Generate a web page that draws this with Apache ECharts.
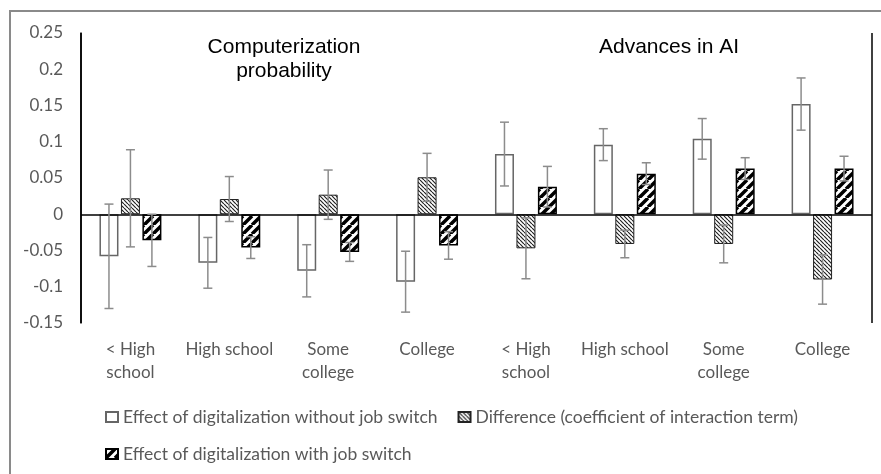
<!DOCTYPE html>
<html><head><meta charset="utf-8">
<script src="https://cdn.jsdelivr.net/npm/echarts/dist/echarts.min.js"></script>
<style>html,body{margin:0;padding:0;background:#fff}#c{width:881px;height:474px}</style>
</head><body><div id="c"></div>
<script>
// ---- data ----
const categories = ['< High\nschool', 'High school', 'Some\ncollege', 'College',
                    '< High\nschool', 'High school', 'Some\ncollege', 'College'];
const panelTitles = ['Computerization\nprobability', 'Advances in AI'];
const seriesNames = ['Effect of digitalization without job switch',
                     'Difference (coefficient of interaction term)',
                     'Effect of digitalization with job switch'];
const noSwitch      = [-0.058, -0.067, -0.078, -0.093, 0.083, 0.096, 0.104, 0.152];
const noSwitchErr   = [ 0.072,  0.035,  0.036,  0.042, 0.044, 0.022, 0.028, 0.036];
const diff          = [ 0.022,  0.021,  0.027,  0.051, -0.047, -0.041, -0.041, -0.090];
const diffErr       = [ 0.067,  0.031,  0.034,  0.033, 0.042, 0.019, 0.026, 0.034];
const withSwitch    = [-0.036, -0.046, -0.052, -0.043, 0.038, 0.056, 0.063, 0.063];
const withSwitchErr = [ 0.036,  0.015,  0.013,  0.019, 0.028, 0.015, 0.015, 0.017];

// ---- styling ----
const BAR_W = 19, BAR_GAP = 0.13;
const TXT = '#595959', FONT = 'Lato, "Open Sans", sans-serif';

function hatch(period, lw, dir, color) {
  const c = document.createElement('canvas');
  c.width = period; c.height = period;
  const ctx = c.getContext('2d');
  ctx.fillStyle = '#fff'; ctx.fillRect(0, 0, period, period);
  ctx.strokeStyle = color; ctx.lineWidth = lw;
  ctx.beginPath();
  for (let k = -1; k <= 1; k++) {
    if (dir === '/') { ctx.moveTo(k * period, period); ctx.lineTo(k * period + period, 0); }
    else { ctx.moveTo(k * period, 0); ctx.lineTo(k * period + period, period); }
  }
  ctx.stroke();
  return c;
}
const diffPattern = { image: hatch(4, 1.2, '\\', '#222'), repeat: 'repeat' };
const blackPattern = { image: hatch(9, 3.5, '/', '#000'), repeat: 'repeat' };

const values = [noSwitch, diff, withSwitch];
const errs = [noSwitchErr, diffErr, withSwitchErr];
const errData = [];
values.forEach((arr, s) => arr.forEach((v, i) => errData.push([i, v, s, errs[s][i]])));

const legendText = { fontFamily: FONT, fontSize: 17.5, color: TXT };
const chart = echarts.init(document.getElementById('c'), null, { renderer: 'canvas' });
chart.setOption({
  animation: false,
  backgroundColor: '#fff',
  grid: { left: 81, right: 9, top: 33, bottom: 151 },
  legend: [
    { data: [seriesNames[0], seriesNames[1]], left: 100, top: 403, itemGap: 20,
      itemWidth: 12, itemHeight: 10, icon: 'rect', textStyle: legendText },
    { data: [seriesNames[2]], left: 100, top: 440,
      itemWidth: 12, itemHeight: 10, icon: 'rect', textStyle: legendText }
  ],
  xAxis: {
    type: 'category', data: categories,
    axisLine: { show: false, onZero: false },
    axisTick: { show: false },
    axisLabel: { fontFamily: FONT, fontSize: 17, color: TXT, lineHeight: 23, margin: 15, interval: 0 },
    splitLine: { show: true, interval: (i) => i === 4, lineStyle: { color: '#000', width: 1.5 } }
  },
  yAxis: {
    type: 'value', min: -0.15, max: 0.25, interval: 0.05,
    axisLine: { show: true, lineStyle: { color: '#000', width: 1.5 } },
    axisTick: { show: false },
    splitLine: { show: false },
    axisLabel: { fontFamily: FONT, fontSize: 17, color: TXT, margin: 18 }
  },
  graphic: [
    { type: 'polyline', silent: true, shape: { points: [[10, 474], [10, 11], [881, 11]] },
      style: { stroke: '#8a8a8a', lineWidth: 2, fill: null } },
    { type: 'text', x: 284, y: 35, silent: true,
      style: { text: panelTitles[0], align: 'center', verticalAlign: 'top', lineHeight: 24,
               font: '21px "Liberation Sans", Arial, sans-serif', fill: '#000' } },
    { type: 'text', x: 669, y: 35, silent: true,
      style: { text: panelTitles[1], align: 'center', verticalAlign: 'top', lineHeight: 24,
               font: '21px "Liberation Sans", Arial, sans-serif', fill: '#000' } }
  ],
  series: [
    { name: seriesNames[0], type: 'bar', data: noSwitch, barWidth: BAR_W, barGap: (BAR_GAP * 100) + '%',
      itemStyle: { color: '#fff', borderColor: '#666', borderWidth: 1.5 },
      markLine: { silent: true, symbol: 'none', label: { show: false },
        lineStyle: { color: '#000', width: 1.5, type: 'solid' }, data: [{ yAxis: 0 }] } },
    { name: seriesNames[1], type: 'bar', data: diff, barWidth: BAR_W,
      itemStyle: { color: diffPattern, borderColor: '#222', borderWidth: 1 } },
    { name: seriesNames[2], type: 'bar', data: withSwitch, barWidth: BAR_W,
      itemStyle: { color: blackPattern, borderColor: '#000', borderWidth: 1.5 } },
    { type: 'custom', z: 5, silent: true, data: errData, encode: { x: 0, y: 1 },
      renderItem: function (params, api) {
        const i = api.value(0), v = api.value(1), s = api.value(2), e = api.value(3);
        const off = (s - 1) * BAR_W * (1 + BAR_GAP);
        const top = api.coord([i, v + e]), bot = api.coord([i, v - e]);
        const x = top[0] + off, hw = 4.5;
        const st = { stroke: '#8c8c8c', lineWidth: 1.5 };
        return { type: 'group', children: [
          { type: 'line', shape: { x1: x, y1: top[1], x2: x, y2: bot[1] }, style: st },
          { type: 'line', shape: { x1: x - hw, y1: top[1], x2: x + hw, y2: top[1] }, style: st },
          { type: 'line', shape: { x1: x - hw, y1: bot[1], x2: x + hw, y2: bot[1] }, style: st }
        ] };
      } }
  ]
});
</script></body></html>
